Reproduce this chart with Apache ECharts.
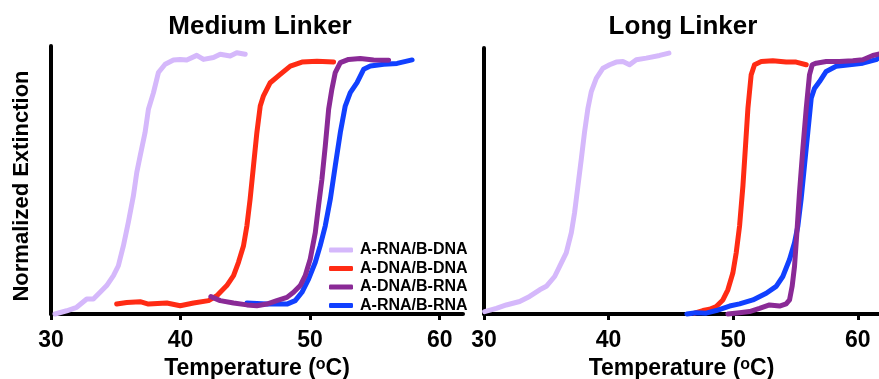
<!DOCTYPE html>
<html>
<head>
<meta charset="utf-8">
<script src="https://cdn.jsdelivr.net/npm/echarts@6/dist/echarts.min.js"></script>
<style>
  html, body { margin: 0; padding: 0; background: #fff; }
  #chart { width: 879px; height: 379px; }
</style>
</head>
<body>
<div id="chart"></div>
<script>
// series names (legend order)
const seriesNames = ['A-RNA/B-DNA', 'A-DNA/B-DNA', 'A-DNA/B-RNA', 'A-RNA/B-RNA']
const seriesColors = ['#d5b8fb', '#ff2b14', '#8a2a96', '#1140ff']
const xTicks = [30, 40, 50, 60]

// Medium Linker: [temperature, normalized extinction]
const mediumRnaDna = [
  [30.31, 0], [31.21, 0.012], [31.98, 0.025], [32.76, 0.056], [33.27, 0.056], [33.79, 0.081],
  [34.30, 0.106], [34.82, 0.143], [35.20, 0.180], [35.59, 0.255], [35.97, 0.342], [36.36, 0.441],
  [36.62, 0.528], [36.88, 0.590], [37.26, 0.677], [37.52, 0.764], [37.91, 0.826], [38.29, 0.901],
  [38.81, 0.932], [39.45, 0.948], [39.97, 0.950], [40.48, 0.948], [41.25, 0.965], [41.77, 0.950],
  [42.54, 0.957], [43.06, 0.969], [43.83, 0.963], [44.34, 0.975], [44.99, 0.969]
]
const mediumDnaDna = [
  [35.07, 0.037], [35.85, 0.043], [36.88, 0.046], [37.52, 0.037], [38.94, 0.041], [39.97, 0.031],
  [41.00, 0.041], [42.16, 0.050], [42.80, 0.068], [43.57, 0.106], [44.09, 0.143], [44.47, 0.193],
  [44.86, 0.255], [45.12, 0.329], [45.37, 0.429], [45.63, 0.553], [45.89, 0.677], [46.15, 0.776],
  [46.40, 0.814], [46.92, 0.863], [47.69, 0.894], [48.47, 0.925], [49.37, 0.940], [50.53, 0.943],
  [51.81, 0.940]
]
const mediumDnaRna = [
  [42.34, 0.065], [43.06, 0.050], [44.09, 0.041], [45.12, 0.034], [45.89, 0.031], [46.66, 0.037],
  [47.43, 0.050], [48.21, 0.062], [48.72, 0.081], [49.24, 0.106], [49.62, 0.143], [50.01, 0.205],
  [50.40, 0.304], [50.65, 0.404], [50.91, 0.503], [51.17, 0.627], [51.43, 0.764], [51.68, 0.839],
  [51.94, 0.901], [52.33, 0.938], [52.97, 0.950], [53.87, 0.953], [54.90, 0.948], [56.06, 0.947]
]
const mediumRnaRna = [
  [45.12, 0.041], [46.66, 0.037], [48.21, 0.037], [48.85, 0.050], [49.37, 0.081], [49.88, 0.130],
  [50.40, 0.193], [50.78, 0.255], [51.17, 0.329], [51.56, 0.429], [51.94, 0.553], [52.33, 0.677],
  [52.71, 0.776], [53.10, 0.826], [53.62, 0.863], [54.13, 0.913], [54.65, 0.925], [55.68, 0.932],
  [56.71, 0.935], [57.87, 0.948]
]

// Long Linker
const longRnaDna = [
  [30.05, 0.009], [30.99, 0.021], [31.79, 0.034], [32.86, 0.047], [33.66, 0.066], [34.47, 0.091],
  [35.00, 0.104], [35.67, 0.141], [36.07, 0.179], [36.60, 0.230], [37.01, 0.306], [37.27, 0.381],
  [37.54, 0.482], [37.81, 0.583], [38.07, 0.684], [38.34, 0.773], [38.61, 0.836], [39.01, 0.886],
  [39.55, 0.924], [40.08, 0.937], [40.61, 0.947], [41.15, 0.949], [41.68, 0.937], [42.22, 0.956],
  [43.02, 0.962], [44.09, 0.972], [44.84, 0.981]
]
const longDnaDna = [
  [46.90, 0.003], [47.57, 0.013], [48.10, 0.018], [48.64, 0.028], [49.17, 0.053], [49.57, 0.091],
  [49.97, 0.154], [50.24, 0.230], [50.51, 0.331], [50.78, 0.482], [50.99, 0.634], [51.18, 0.773],
  [51.44, 0.899], [51.71, 0.937], [52.25, 0.949], [53.18, 0.952], [54.25, 0.947], [55.05, 0.947],
  [55.86, 0.937]
]
const longDnaRna = [
  [49.57, 0], [50.51, 0.005], [51.31, 0.009], [52.11, 0.021], [52.91, 0.034], [53.72, 0.030],
  [54.25, 0.038], [54.52, 0.053], [54.73, 0.104], [54.92, 0.179], [55.11, 0.306], [55.32, 0.457],
  [55.59, 0.621], [55.86, 0.773], [56.12, 0.899], [56.34, 0.937], [56.66, 0.943], [57.46, 0.949],
  [58.53, 0.949], [59.60, 0.952], [60.40, 0.956], [61.20, 0.972], [61.66, 0.977]
]
const longRnaRna = [
  [46.28, 0], [47.03, 0.005], [47.83, 0.003], [48.64, 0.013], [49.71, 0.030], [50.51, 0.038],
  [51.58, 0.053], [52.65, 0.078], [53.45, 0.104], [53.98, 0.141], [54.52, 0.205], [54.92, 0.268],
  [55.19, 0.331], [55.45, 0.432], [55.72, 0.558], [55.99, 0.684], [56.26, 0.811], [56.52, 0.848],
  [56.93, 0.874], [57.46, 0.912], [58.26, 0.931], [59.33, 0.937], [60.40, 0.943], [61.47, 0.956],
  [61.66, 0.962]
]

const FONT = 'Liberation Sans'

const chart = echarts.init(document.getElementById('chart'), null, { renderer: 'canvas' })

const xAxisBase = (idx, max) => ({
  type: 'value',
  gridIndex: idx,
  min: 30,
  max: max,
  interval: 10,
  splitLine: { show: false },
  axisLine: { lineStyle: { color: '#000', width: 4 } },
  axisTick: { customValues: xTicks, length: 6, lineStyle: { color: '#000', width: 3 } },
  axisLabel: {
    customValues: xTicks,
    margin: 15,
    color: '#000',
    fontSize: 23,
    fontWeight: 'bold',
    fontFamily: FONT
  },
  name: 'Temperature ({sup|o}C)',
  nameLocation: 'middle',
  nameGap: 38,
  nameTextStyle: {
    color: '#000',
    fontSize: 23,
    fontWeight: 'bold',
    fontFamily: FONT,
    rich: {
      sup: { fontSize: 16, lineHeight: 16, fontWeight: 'bold', fontFamily: FONT, color: '#000', verticalAlign: 'top' }
    }
  }
})

const yAxisBase = (idx, withName) => ({
  type: 'value',
  gridIndex: idx,
  min: 0,
  max: 1,
  splitLine: { show: false },
  axisLine: { show: true, lineStyle: { color: '#000', width: 4 } },
  axisTick: { show: false },
  axisLabel: { show: false },
  name: withName ? 'Normalized Extinction' : '',
  nameLocation: 'middle',
  nameRotate: 90,
  nameGap: 18,
  nameTextStyle: { color: '#000', fontSize: 22, fontWeight: 'bold', fontFamily: FONT, padding: [0, 12, 0, 0] }
})

const line = (name, color, data, idx, z) => ({
  name: name,
  type: 'line',
  xAxisIndex: idx,
  yAxisIndex: idx,
  data: data,
  symbol: 'none',
  z: z,
  clip: false,
  lineStyle: { color: color, width: 5, cap: 'round', join: 'round' },
  itemStyle: { color: color }
})

chart.setOption({
  animation: false,
  title: [
    {
      text: 'Medium Linker',
      left: 255,
      top: 9,
      textAlign: 'center',
      textStyle: { fontSize: 26, fontWeight: 'bold', color: '#000', fontFamily: FONT }
    },
    {
      text: 'Long Linker',
      left: 678,
      top: 9,
      textAlign: 'center',
      textStyle: { fontSize: 26, fontWeight: 'bold', color: '#000', fontFamily: FONT }
    }
  ],
  legend: {
    data: seriesNames,
    orient: 'vertical',
    left: 329,
    top: 242,
    padding: 0,
    itemWidth: 24,
    itemHeight: 5,
    itemGap: 2.5,
    icon: 'roundRect',
    textStyle: { fontSize: 16, lineHeight: 16, fontWeight: 'bold', color: '#000', fontFamily: FONT, padding: [0, 0, 0, 2] }
  },
  grid: [
    { left: 51, top: 46, width: 412, height: 268, outerBoundsMode: 'none', containLabel: false },
    { left: 484, top: 48, width: 395, height: 266, outerBoundsMode: 'none', containLabel: false }
  ],
  xAxis: [xAxisBase(0, 61.8), xAxisBase(1, 61.7)],
  yAxis: [yAxisBase(0, true), yAxisBase(1, false)],
  series: [
    line(seriesNames[0], seriesColors[0], mediumRnaDna, 0, 2),
    line(seriesNames[1], seriesColors[1], mediumDnaDna, 0, 3),
    line(seriesNames[3], seriesColors[3], mediumRnaRna, 0, 4),
    line(seriesNames[2], seriesColors[2], mediumDnaRna, 0, 5),
    line(seriesNames[0], seriesColors[0], longRnaDna, 1, 2),
    line(seriesNames[1], seriesColors[1], longDnaDna, 1, 3),
    line(seriesNames[3], seriesColors[3], longRnaRna, 1, 4),
    line(seriesNames[2], seriesColors[2], longDnaRna, 1, 5)
  ]
})
</script>
</body>
</html>
